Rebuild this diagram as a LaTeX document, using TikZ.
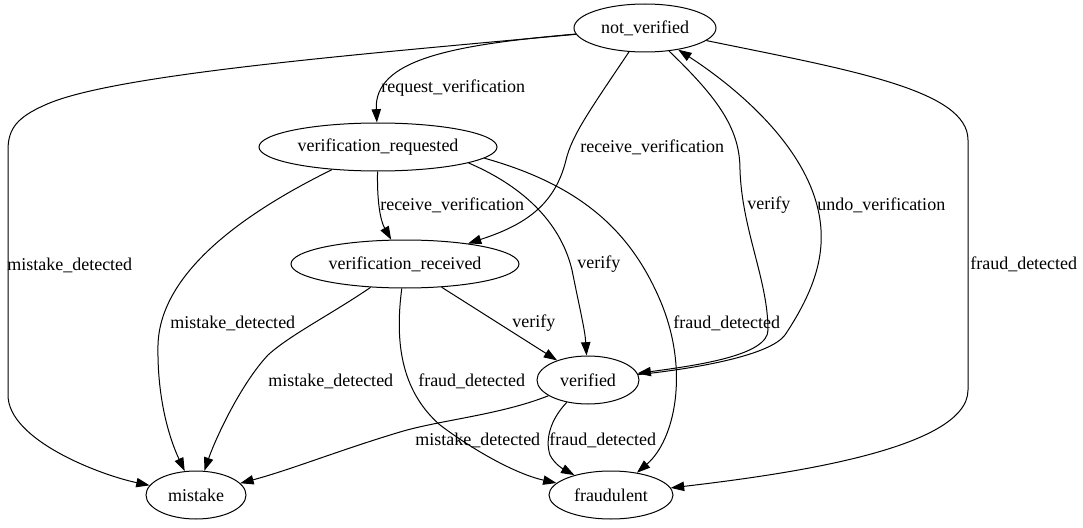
\documentclass[tikz,border=0pt]{standalone}
\usepackage{fontspec}
\setmainfont{Liberation Serif}
\usetikzlibrary{shapes.geometric,arrows.meta}
\tikzset{
    state/.style={
            draw,
            ellipse,
            line width=0.75pt,
            inner sep=0pt, % no padding
            minimum height=36pt,
            minimum width={#1}
        },
    state/.default={80pt}
}
\tikzset{
    trans/.style={
            line width=0.75pt,
            -{Triangle[length=10pt,width=7pt]}
        }
}
\tikzset{
    lbl/.style={
            anchor=west,
            inner sep=0pt
        }
}

\begin{document}
\begin{tikzpicture}[x=0.75pt, y=-0.75pt, font=\fontsize{13.5}{16}\selectfont]
    \useasboundingbox (0,0) rectangle (1083,528);
    %
    \node [state=106.5pt] (nv) at (645,28) {not\_verified};
    \node [state=178.5pt] (vreq) at (378,147) {verification\_requested};
    \node [state=171pt] (vrec) at (405,264) {verification\_received};
    \node [state=76.5pt] (ver) at (588,380) {verified};
    \node [state=75pt] (mis) at (196,495) {mistake};
    \node [state=93pt] (fra) at (611,495) {fraudulent};
    %
    % out of not_verified
    \draw [trans] (nv) .. controls (450,45) and (374,60) .. (vreq);
    \draw [trans] (nv) .. controls (350,55) and (110,75) .. (45,105)
    .. controls (18,117) and (8,128) .. (8,150)
    -- (8,395) .. controls (8,440) and (100,475) .. (mis);
    \draw [trans] (nv) .. controls (590,110) and (572,135) .. (566,160)
    .. controls (555,205) and (525,225) .. (vrec);
    \draw [trans] (nv) .. controls (720,100) and (740,130) .. (740,170)
    .. controls (742,230) and (768,280) .. (768,330)
    .. controls (768,355) and (700,365) .. (ver);
    \draw [trans] (nv) .. controls (850,70) and (968,90) .. (968,140)
    -- (968,390) .. controls (968,450) and (780,475) .. (fra);
    %
    % out of verification_requested
    \draw [trans] (vreq) .. controls (377,200) and (380,220) .. (vrec);
    \draw [trans] (vreq) .. controls (250,210) and (160,270) .. (158,345)
    .. controls (157,400) and (170,440) .. (mis);
    \draw [trans] (vreq.-10) .. controls (520,185) and (560,220) .. (572,270)
    .. controls (580,310) and (585,330) .. (ver);
    \draw [trans] (vreq.-6) .. controls (580,185) and (630,230) .. (660,300)
    .. controls (690,370) and (675,440) .. (fra);
    %
    % out of verification_received
    \draw [trans] (vrec) -- (ver);
    \draw [trans] (vrec) .. controls (330,315) and (290,335) .. (268,355)
    .. controls (240,385) and (215,440) .. (mis);
    \draw [trans] (vrec) .. controls (395,340) and (400,390) .. (440,425)
    .. controls (480,455) and (520,475) .. (fra);
    %
    % out of verified
    \draw [trans] (ver) .. controls (700,368) and (770,355) .. (785,335)
    .. controls (815,290) and (825,255) .. (820,220)
    .. controls (810,150) and (740,90) .. (nv);
    \draw [trans] (ver) .. controls (500,415) and (440,420) .. (400,432)
    .. controls (340,450) and (290,470) .. (mis);
    \draw [trans] (ver) .. controls (550,420) and (545,440) .. (550,455)
    .. controls (555,465) and (565,470) .. (fra);
    %
    \node [lbl] (l-req) at (381,88) {request\_verification};
    \node [lbl] (l-nvmis) at (7,265) {mistake\_detected};
    \node [lbl] (l-nvrec) at (580,147) {receive\_verification};
    \node [lbl] (l-nvver) at (747,205) {verify};
    \node [lbl] (l-undo) at (817,205) {undo\_verification};
    \node [lbl] (l-nvfra) at (970,264) {fraud\_detected};
    \node [lbl] (l-reqrec) at (380,205) {receive\_verification};
    \node [lbl] (l-reqmis) at (170,323) {mistake\_detected};
    \node [lbl] (l-reqver) at (577,264) {verify};
    \node [lbl] (l-reqfra) at (673,323) {fraud\_detected};
    \node [lbl] (l-recver) at (512,323) {verify};
    \node [lbl] (l-recmis) at (268,381) {mistake\_detected};
    \node [lbl] (l-recfra) at (418,381) {fraud\_detected};
    \node [lbl] (l-vermis) at (415,440) {mistake\_detected};
    \node [lbl] (l-verfra) at (549,440) {fraud\_detected};
\end{tikzpicture}
\end{document}
